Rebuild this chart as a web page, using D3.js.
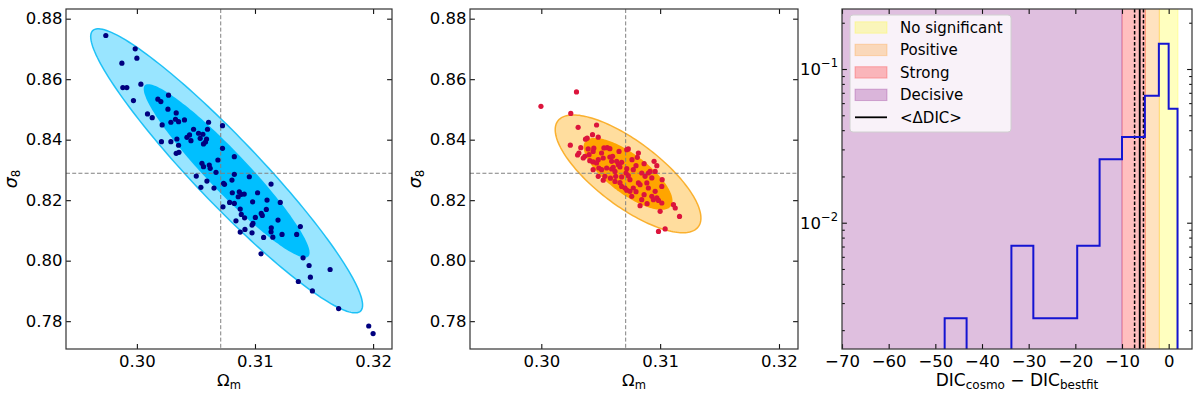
<!DOCTYPE html>
<html><head><meta charset="utf-8">
<script src="https://cdn.jsdelivr.net/npm/d3@7"></script>
<style>
body{margin:0;background:#fff;}
svg text{font-family:"DejaVu Sans",sans-serif;fill:#000;}
</style></head><body>
<svg id="c" width="1200" height="395"></svg>
<script>
// ---------- data ----------
const omTicks = [0.30, 0.31, 0.32];
const s8Ticks = [0.78, 0.80, 0.82, 0.84, 0.86, 0.88];
const omDomain = [0.2940, 0.3216];
const s8Domain = [0.7708, 0.8832];
const fiducial = [0.3071, 0.8289];
const contourK = [2.486, 1.517]; // 2-sigma, 1-sigma (2 params)

const leftCenter = [0.3076, 0.8297];
const leftSigma = [0.00463, 0.01889];
const leftRho = -0.945;
const midCenter = [0.3073, 0.8287];
const midSigma = [0.002466, 0.00783];
const midRho = -0.75;

const leftOm = [0.29737,0.29986,0.30000,0.29873,0.29881,0.29915,0.30034,0.29971,0.30268,0.30178,
0.30203,0.30263,0.30090,0.30130,0.30333,0.30214,0.30288,0.30327,0.30353,0.30403,
0.30607,0.30725,0.30480,0.30598,0.30522,0.30559,0.30536,0.30590,0.30446,0.30424,
0.30564,0.30581,0.30458,0.30288,0.30339,0.30353,0.30725,0.30208,0.30333,0.30356,
0.30825,0.30551,0.30564,0.30613,0.30621,0.30686,0.30670,0.30503,0.30825,0.30952,
0.30593,0.30805,0.30734,0.30742,0.30542,0.30653,0.31136,0.30808,0.30867,0.30884,
0.30909,0.30858,0.31022,0.30785,0.30825,0.30980,0.31102,0.31214,0.30729,0.30875,
0.30884,0.31096,0.31053,0.31062,0.31003,0.30912,0.30839,0.31195,0.30983,0.30975,
0.31138,0.30915,0.30875,0.31229,0.31384,0.31073,0.31151,0.30975,0.31136,0.31353,
0.31051,0.31407,0.31458,0.31636,0.31469,0.31367,0.31486,0.31708,0.31963,0.32000];
const leftS8 = [0.87444,0.87003,0.86695,0.86530,0.85722,0.85722,0.85834,0.85291,0.85470,0.85338,
0.85258,0.85007,0.84851,0.84728,0.84884,0.84487,0.84576,0.84675,0.84596,0.84652,
0.84576,0.84464,0.84344,0.84344,0.84212,0.84179,0.84046,0.84023,0.84156,0.84079,
0.83858,0.83924,0.83967,0.83934,0.84023,0.83815,0.83715,0.83934,0.83550,0.83583,
0.83437,0.83219,0.83106,0.83162,0.83053,0.83328,0.82921,0.82798,0.82854,0.82775,
0.82632,0.82666,0.82556,0.82523,0.82424,0.82401,0.82533,0.82245,0.82278,0.82192,
0.82202,0.82113,0.82245,0.81927,0.81894,0.81947,0.82003,0.81927,0.81781,0.81705,
0.81530,0.81695,0.81563,0.81497,0.81431,0.81417,0.81318,0.81341,0.81232,0.81176,
0.81086,0.81033,0.80944,0.80868,0.81126,0.80768,0.80778,0.80921,0.80954,0.80868,
0.80225,0.80093,0.79841,0.79709,0.79454,0.79311,0.79000,0.78417,0.77841,0.77590];

const midOm = [0.29997,0.30296,0.30248,0.30310,0.30465,0.30244,0.30372,0.30386,0.30431,0.30479,
0.30332,0.30394,0.30316,0.30305,0.30366,0.30353,0.30436,0.30442,0.30402,0.30527,
0.30555,0.30577,0.30507,0.30654,0.30732,0.30408,0.30436,0.30479,0.30465,0.30521,
0.30577,0.30592,0.30634,0.30648,0.30676,0.30484,0.30507,0.30592,0.30605,0.30620,
0.30662,0.30719,0.30479,0.30535,0.30626,0.30676,0.30436,0.30719,0.30600,0.30550,
0.30713,0.30732,0.30774,0.30582,0.30521,0.30620,0.30676,0.30704,0.30719,0.30746,
0.30774,0.30817,0.30831,0.30873,0.30901,0.30915,0.30930,0.30845,0.30888,0.30901,
0.30958,0.30845,0.30761,0.30930,0.30943,0.30972,0.30986,0.31014,0.31000,0.30817,
0.30808,0.30949,0.30972,0.30958,0.31017,0.31014,0.31112,0.31127,0.31163,0.31042,
0.30986,0.30797,0.30865,0.30746,0.30797,0.30865,0.30662,0.30763,0.30831,0.30890];
const midS8 = [0.85101,0.85577,0.84869,0.84407,0.84486,0.83818,0.84017,0.84050,0.84165,0.84083,
0.83736,0.83693,0.83560,0.83494,0.83448,0.83395,0.83613,0.83719,0.83504,0.83726,
0.83736,0.83702,0.83560,0.83613,0.83693,0.83306,0.83263,0.83339,0.83230,0.83395,
0.83428,0.83283,0.83283,0.83174,0.83250,0.83064,0.83008,0.83031,0.83084,0.82952,
0.83097,0.83041,0.82787,0.82787,0.82787,0.82767,0.83008,0.83669,0.83448,0.83064,
0.82899,0.82810,0.83008,0.82727,0.82661,0.82621,0.82456,0.82403,0.82330,0.82291,
0.82403,0.82569,0.82512,0.82787,0.82899,0.82952,0.82734,0.82899,0.82569,0.82403,
0.82291,0.82016,0.82126,0.82126,0.82016,0.82073,0.81993,0.81907,0.81630,0.83560,
0.83415,0.83283,0.83140,0.82952,0.82678,0.82456,0.81851,0.81742,0.81464,0.81048,
0.80968,0.83140,0.83207,0.82678,0.82281,0.82182,0.82578,0.83339,0.81818,0.81884];

// right panel
const dicDomain = [-70, 5];
const dicTicks = [-70, -60, -50, -40, -30, -20, -10, 0];
const densDomain = [0.001508, 0.2457];
const densMajor = [0.01, 0.1];
const densMinor = [0.002,0.003,0.004,0.005,0.006,0.007,0.008,0.009,0.02,0.03,0.04,0.05,0.06,0.07,0.08,0.09,0.2];
const dicEdges = [-48.0, -43.3, -38.6, -33.7, -29.0, -24.3, -19.6, -14.8, -10.0, -5.1, -2.1, 0.0, 1.9];
const dicDensity = [0.00239, 0, 0, 0.00708, 0.00239, 0.00239, 0.00708, 0.02585, 0.0361, 0.0670, 0.1461, 0.0552];
const regionNames = ["No significant", "Positive", "Strong", "Decisive"];
const regionLo = [-2, -5, -10, -80];
const regionHi = [2, -2, -5, -10];
const meanDIC = -6.2;
const meanBand = [-7.3, -5.4];

// ---------- drawing ----------
const svg = d3.select("#c");
const TOP = 9, BOT = 349;
const FS = 16.5;
const TICK = 4.9, MINOR = 2.8;

function styleAxis(g) {
  g.select(".domain").remove();
  g.attr("font-family", null).attr("font-size", null);
  g.selectAll(".tick line").attr("stroke", "#111").attr("stroke-width", 1.1);
  g.selectAll(".tick text").style("font-size", FS + "px").attr("fill", "#000");
}

function frame(x0, x1) {
  svg.append("rect").attr("x", x0).attr("y", TOP).attr("width", x1 - x0).attr("height", BOT - TOP)
    .attr("fill", "none").attr("stroke", "#333").attr("stroke-width", 1.2);
}

function scatterPanel(x0, x1, om, s8, center, sigma, rho, fillOuter, strokeOuter, fillInner, dotColor, id) {
  const x = d3.scaleLinear().domain(omDomain).range([x0, x1]);
  const y = d3.scaleLinear().domain(s8Domain).range([BOT, TOP]);
  svg.append("clipPath").attr("id", id).append("rect")
    .attr("x", x0).attr("y", TOP).attr("width", x1 - x0).attr("height", BOT - TOP);
  const g = svg.append("g").attr("clip-path", `url(#${id})`);
  const ts = d3.range(0, 360, 2).map(d => d * Math.PI / 180);
  const ell = k => ts.map(t => [
    center[0] + k * sigma[0] * Math.cos(t),
    center[1] + k * sigma[1] * (rho * Math.cos(t) + Math.sqrt(1 - rho * rho) * Math.sin(t))
  ]);
  const line = d3.line().x(d => x(d[0])).y(d => y(d[1])).curve(d3.curveLinearClosed);
  g.append("path").attr("d", line(ell(contourK[0]))).attr("fill", fillOuter)
    .attr("stroke", strokeOuter).attr("stroke-width", 1.5);
  g.append("path").attr("d", line(ell(contourK[1]))).attr("fill", fillInner);
  g.append("line").attr("x1", x(fiducial[0])).attr("x2", x(fiducial[0])).attr("y1", TOP).attr("y2", BOT)
    .attr("stroke", "#808080").attr("stroke-width", 1).attr("stroke-dasharray", "4,2.2");
  g.append("line").attr("x1", x0).attr("x2", x1).attr("y1", y(fiducial[1])).attr("y2", y(fiducial[1]))
    .attr("stroke", "#808080").attr("stroke-width", 1).attr("stroke-dasharray", "4,2.2");
  g.selectAll("circle").data(om).join("circle")
    .attr("cx", d => x(d)).attr("cy", (d, i) => y(s8[i])).attr("r", 2.6).attr("fill", dotColor);

  styleAxis(svg.append("g").attr("transform", `translate(0,${BOT})`)
    .call(d3.axisBottom(x).tickValues(omTicks).tickSizeInner(-TICK).tickSizeOuter(0).tickPadding(6).tickFormat(d3.format(".2f"))));
  styleAxis(svg.append("g").attr("transform", `translate(0,${TOP})`)
    .call(d3.axisTop(x).tickValues(omTicks).tickSizeInner(-TICK).tickSizeOuter(0).tickFormat("")));
  styleAxis(svg.append("g").attr("transform", `translate(${x0},0)`)
    .call(d3.axisLeft(y).tickValues(s8Ticks).tickSizeInner(-TICK).tickSizeOuter(0).tickPadding(3.5).tickFormat(d3.format(".2f"))));
  styleAxis(svg.append("g").attr("transform", `translate(${x1},0)`)
    .call(d3.axisRight(y).tickValues(s8Ticks).tickSizeInner(-TICK).tickSizeOuter(0).tickFormat("")));
  frame(x0, x1);

  // x label Omega_m
  const xl = svg.append("text").attr("x", (x0 + x1) / 2).attr("y", 386).attr("text-anchor", "middle")
    .style("font-size", FS + "px");
  xl.append("tspan").text("Ω");
  xl.append("tspan").attr("dy", 2.5).style("font-size", (FS * 0.7) + "px").text("m");
  // y label sigma_8
  const yl = svg.append("text").attr("transform", `translate(${x0 - 49},${(TOP + BOT) / 2}) rotate(-90)`)
    .attr("text-anchor", "middle").style("font-size", (FS + 1) + "px");
  yl.append("tspan").style("font-style", "italic").text("σ");
  yl.append("tspan").attr("dy", 3).style("font-size", (FS * 0.72) + "px").text("8");
}

scatterPanel(66, 392, leftOm, leftS8, leftCenter, leftSigma, leftRho,
  "rgba(0,191,255,0.4)", "rgba(0,185,245,0.85)", "#00bfff", "#00007f", "clipL");
scatterPanel(470, 798, midOm, midS8, midCenter, midSigma, midRho,
  "rgba(255,165,0,0.38)", "rgba(250,170,30,0.9)", "#ffa500", "#dc143c", "clipM");

// ---------- right panel ----------
(function () {
  const x0 = 842, x1 = 1192;
  const x = d3.scaleLinear().domain(dicDomain).range([x0, x1]);
  const y = d3.scaleLog().domain(densDomain).range([BOT, TOP]);
  svg.append("clipPath").attr("id", "clipR").append("rect")
    .attr("x", x0).attr("y", TOP).attr("width", x1 - x0).attr("height", BOT - TOP);
  const g = svg.append("g").attr("clip-path", "url(#clipR)");
  const regionColors = ["rgba(255,255,0,0.25)", "rgba(255,140,0,0.25)", "rgba(255,0,0,0.25)", "rgba(128,0,128,0.25)"];
  regionNames.forEach((n, i) => {
    g.append("rect").attr("x", x(regionLo[i])).attr("width", x(regionHi[i]) - x(regionLo[i]))
      .attr("y", TOP - 5).attr("height", BOT - TOP + 10)
      .attr("fill", regionColors[i]).attr("stroke", regionColors[i]).attr("stroke-width", 1);
  });
  // mean lines
  g.append("line").attr("x1", x(meanDIC)).attr("x2", x(meanDIC)).attr("y1", TOP).attr("y2", BOT)
    .attr("stroke", "#000").attr("stroke-width", 1.8);
  meanBand.forEach(v => g.append("line").attr("x1", x(v)).attr("x2", x(v)).attr("y1", TOP).attr("y2", BOT)
    .attr("stroke", "#000").attr("stroke-width", 1.5).attr("stroke-dasharray", "3.5,2"));
  // histogram step
  const floor = 1e-6;
  const pts = [[dicEdges[0], floor]];
  dicDensity.forEach((v, i) => {
    const vv = v > 0 ? v : floor;
    pts.push([dicEdges[i], vv]); pts.push([dicEdges[i + 1], vv]);
  });
  pts.push([dicEdges[dicEdges.length - 1], floor]);
  g.append("path").attr("d", d3.line().x(d => x(d[0])).y(d => y(d[1]))(pts))
    .attr("fill", "none").attr("stroke", "#1414d2").attr("stroke-width", 2);

  // axes
  styleAxis(svg.append("g").attr("transform", `translate(0,${BOT})`)
    .call(d3.axisBottom(x).tickValues(dicTicks).tickSizeInner(-TICK).tickSizeOuter(0).tickPadding(6).tickFormat(d3.format("d"))));
  styleAxis(svg.append("g").attr("transform", `translate(0,${TOP})`)
    .call(d3.axisTop(x).tickValues(dicTicks).tickSizeInner(-TICK).tickSizeOuter(0).tickFormat("")));
  styleAxis(svg.append("g").attr("transform", `translate(${x0},0)`)
    .call(d3.axisLeft(y).tickValues(densMajor).tickSizeInner(-TICK).tickSizeOuter(0).tickFormat("")));
  styleAxis(svg.append("g").attr("transform", `translate(${x0},0)`)
    .call(d3.axisLeft(y).tickValues(densMinor).tickSizeInner(-MINOR).tickSizeOuter(0).tickFormat("")));
  styleAxis(svg.append("g").attr("transform", `translate(${x1},0)`)
    .call(d3.axisRight(y).tickValues(densMajor).tickSizeInner(-TICK).tickSizeOuter(0).tickFormat("")));
  styleAxis(svg.append("g").attr("transform", `translate(${x1},0)`)
    .call(d3.axisRight(y).tickValues(densMinor).tickSizeInner(-MINOR).tickSizeOuter(0).tickFormat("")));
  densMajor.forEach(v => {
    const t = svg.append("text").attr("x", x0 - 4).attr("y", y(v) + 6).attr("text-anchor", "end")
      .style("font-size", FS + "px");
    t.append("tspan").text("10");
    t.append("tspan").attr("dy", -8).style("font-size", (FS * 0.7) + "px").text("−" + Math.round(-Math.log10(v)));
  });
  frame(x0, x1);

  // x label
  const xl = svg.append("text").attr("x", (x0 + x1) / 2).attr("y", 386).attr("text-anchor", "middle")
    .style("font-size", "17px");
  xl.append("tspan").text("DIC");
  xl.append("tspan").attr("dy", 2.5).style("font-size", "12px").text("cosmo");
  xl.append("tspan").attr("dy", -2.5).text(" − DIC");
  xl.append("tspan").attr("dy", 2.5).style("font-size", "12px").text("bestfit");

  // legend
  const lg = svg.append("g");
  lg.append("rect").attr("x", 850).attr("y", 15).attr("width", 161).attr("height", 117).attr("rx", 3)
    .attr("fill", "rgba(255,255,255,0.8)").attr("stroke", "#d0d0d0").attr("stroke-width", 1);
  const labels = regionNames.concat(["<ΔDIC>"]);
  labels.forEach((n, i) => {
    const cy = 27.5 + i * 22.45;
    if (i < regionNames.length) {
      lg.append("rect").attr("x", 855).attr("y", cy - 5.7).attr("width", 32).attr("height", 11.4)
        .attr("fill", regionColors[i]).attr("stroke", regionColors[i]).attr("stroke-width", 1);
    } else {
      lg.append("line").attr("x1", 855).attr("x2", 887).attr("y1", cy).attr("y2", cy)
        .attr("stroke", "#000").attr("stroke-width", 1.8);
    }
    lg.append("text").attr("x", 900).attr("y", cy + 5.4).style("font-size", "15px").text(n);
  });
})();
</script>
</body></html>
